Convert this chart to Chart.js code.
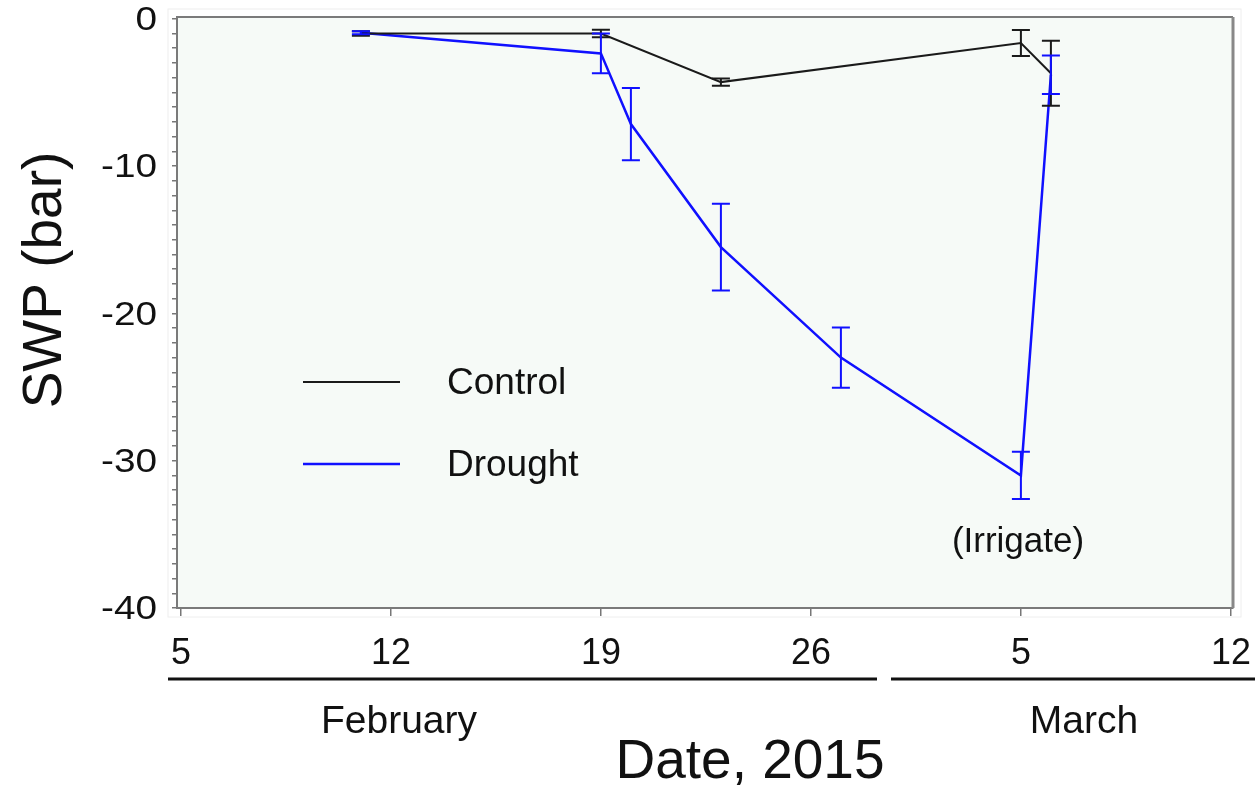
<!DOCTYPE html>
<html lang="en">
  <head>
    <meta charset="UTF-8" />
    <title>SWP, 2015</title>
    <script src="https://cdn.jsdelivr.net/npm/chart.js@4"></script>
    <style>
      html,
      body {
        margin: 0;
        padding: 0;
        background: #fff;
      }
      #wrap {
        width: 1259px;
        height: 785px;
      }
    </style>
  </head>
  <body>
    <div id="wrap"><canvas id="swpChart"></canvas></div>

    <script>
      // days counted from Feb 1 (Feb 2015 has 28 days, so Mar 5 = 33)
      const controlDays = [11, 19, 23, 33, 34];
      const controlSwp = [-1.0, -1.0, -4.3, -1.65, -3.7];
      const controlErr = [0.15, 0.25, 0.25, 0.88, 2.2];

      const droughtDays = [11, 19, 20, 23, 27, 33, 34];
      const droughtSwp = [-0.95, -2.35, -7.15, -15.5, -23.0, -31.0, -3.8];
      const droughtErr = [0.1, 1.35, 2.45, 2.95, 2.05, 1.6, 1.3];

      const xTickDays = [5, 12, 19, 26, 33, 40];
      const xTickLabels = ["5", "12", "19", "26", "5", "12"];
      const yTickValues = [0, -10, -20, -30, -40];

      const FONT = '"Liberation Sans", Arial, sans-serif';

      function pts(xs, ys) {
        return xs.map((d, i) => ({ x: d, y: ys[i] }));
      }

      // sx widens the glyphs a little, the axis numbers are drawn wide
      function text(ctx, str, x, y, size, align, base, sx) {
        sx = sx || 1;
        ctx.save();
        ctx.translate(x, y);
        ctx.scale(sx, 1);
        ctx.font = size + "px " + FONT;
        ctx.textAlign = align || "center";
        ctx.textBaseline = base || "alphabetic";
        ctx.fillText(str, 0, 0);
        ctx.restore();
      }

      const decor = {
        id: "decor",
        beforeDraw(chart) {
          const { ctx, chartArea: a } = chart;
          ctx.save();
          ctx.fillStyle = "#fff";
          ctx.fillRect(0, 0, chart.width, chart.height);
          // faint frame round the plot
          ctx.strokeStyle = "#eeeeee";
          ctx.lineWidth = 1;
          ctx.strokeRect(a.left - 9, a.top - 8, a.right - a.left + 17, a.bottom - a.top + 17);
          ctx.fillStyle = "#f6faf7";
          ctx.fillRect(a.left, a.top, a.right - a.left, a.bottom - a.top);
          ctx.restore();
        },
        afterDatasetsDraw(chart) {
          const { ctx, chartArea: a, scales } = chart;
          const xs = scales.x, ys = scales.y;
          ctx.save();
          ctx.fillStyle = "#111";

          // error bars
          const sets = [
            [controlDays, controlSwp, controlErr, "#1a1a1a"],
            [droughtDays, droughtSwp, droughtErr, "#1010ff"],
          ];
          sets.forEach(([days, vals, errs, col]) => {
            ctx.strokeStyle = col;
            ctx.lineWidth = 2;
            days.forEach((d, i) => {
              const px = xs.getPixelForValue(d);
              const top = ys.getPixelForValue(vals[i] + errs[i]);
              const bot = ys.getPixelForValue(vals[i] - errs[i]);
              ctx.beginPath();
              ctx.moveTo(px, top);
              ctx.lineTo(px, bot);
              ctx.moveTo(px - 9, top);
              ctx.lineTo(px + 9, top);
              ctx.moveTo(px - 9, bot);
              ctx.lineTo(px + 9, bot);
              ctx.stroke();
            });
          });

          // top and right frame
          ctx.strokeStyle = "#7a7a7a";
          ctx.lineWidth = 2;
          ctx.beginPath();
          ctx.moveTo(a.left, a.top);
          ctx.lineTo(a.right, a.top);
          ctx.stroke();
          ctx.strokeStyle = "#888";
          ctx.lineWidth = 3;
          ctx.beginPath();
          ctx.moveTo(a.right, a.top);
          ctx.lineTo(a.right, a.bottom);
          ctx.stroke();

          // legend
          ctx.lineWidth = 2;
          ctx.strokeStyle = "#1a1a1a";
          ctx.beginPath();
          ctx.moveTo(303, 382);
          ctx.lineTo(400, 382);
          ctx.stroke();
          ctx.strokeStyle = "#1010ff";
          ctx.lineWidth = 2.5;
          ctx.beginPath();
          ctx.moveTo(303, 464);
          ctx.lineTo(400, 464);
          ctx.stroke();
          text(ctx, "Control", 447, 384, 37, "left", "middle");
          text(ctx, "Drought", 447, 466, 37, "left", "middle");

          text(ctx, "(Irrigate)", 1018, 542, 35, "center", "middle");

          // tick labels
          yTickValues.forEach((v) => {
            text(ctx, String(v), 157, ys.getPixelForValue(v) + 2, 34, "right", "middle", 1.14);
          });
          xTickDays.forEach((d, i) => {
            text(ctx, xTickLabels[i], xs.getPixelForValue(d), 664, 37, "center", "alphabetic", 0.97);
          });

          // month bars
          ctx.strokeStyle = "#111";
          ctx.lineWidth = 3;
          ctx.beginPath();
          ctx.moveTo(168, 679);
          ctx.lineTo(877, 679);
          ctx.moveTo(891, 679);
          ctx.lineTo(1255, 679);
          ctx.stroke();
          text(ctx, "February", 399, 733, 39, "center");
          text(ctx, "March", 1084, 733, 39, "center");
          text(ctx, "Date, 2015", 750, 778, 55, "center");

          // y title
          ctx.translate(61, 280);
          ctx.rotate(-Math.PI / 2);
          text(ctx, "SWP (bar)", 0, 0, 55, "center");
          ctx.restore();
        },
      };

      new Chart(document.getElementById("swpChart"), {
        type: "line",
        data: {
          datasets: [
            {
              label: "Control",
              data: pts(controlDays, controlSwp),
              borderColor: "#1a1a1a",
              borderWidth: 2,
              pointRadius: 0,
              tension: 0,
            },
            {
              label: "Drought",
              data: pts(droughtDays, droughtSwp),
              borderColor: "#1010ff",
              borderWidth: 2.5,
              pointRadius: 0,
              tension: 0,
            },
          ],
        },
        options: {
          responsive: true,
          maintainAspectRatio: false,
          animation: false,
          events: [],
          layout: { padding: { top: 17, right: 26, left: 0, bottom: 0 } },
          plugins: { legend: { display: false }, tooltip: { enabled: false } },
          scales: {
            x: {
              type: "linear",
              min: 4.87,
              max: 40.07,
              afterBuildTicks: (s) => {
                s.ticks = xTickDays.map((v) => ({ value: v }));
              },
              afterFit: (s) => {
                s.height = 177;
              },
              ticks: { display: false },
              grid: {
                drawOnChartArea: false,
                tickLength: 8,
                color: "#777",
                lineWidth: 1.5,
              },
              border: { color: "#7a7a7a", width: 2 },
            },
            y: {
              min: -40,
              max: 0.12,
              afterBuildTicks: (s) => {
                const t = [];
                for (let v = 0; v >= -40; v--) t.push({ value: v });
                s.ticks = t;
              },
              afterFit: (s) => {
                s.width = 177;
              },
              ticks: { display: false },
              grid: {
                drawOnChartArea: false,
                tickLength: 5,
                color: "#777",
                lineWidth: 1.5,
              },
              border: { color: "#7a7a7a", width: 2 },
            },
          },
        },
        plugins: [decor],
      });
    </script>
  </body>
</html>
